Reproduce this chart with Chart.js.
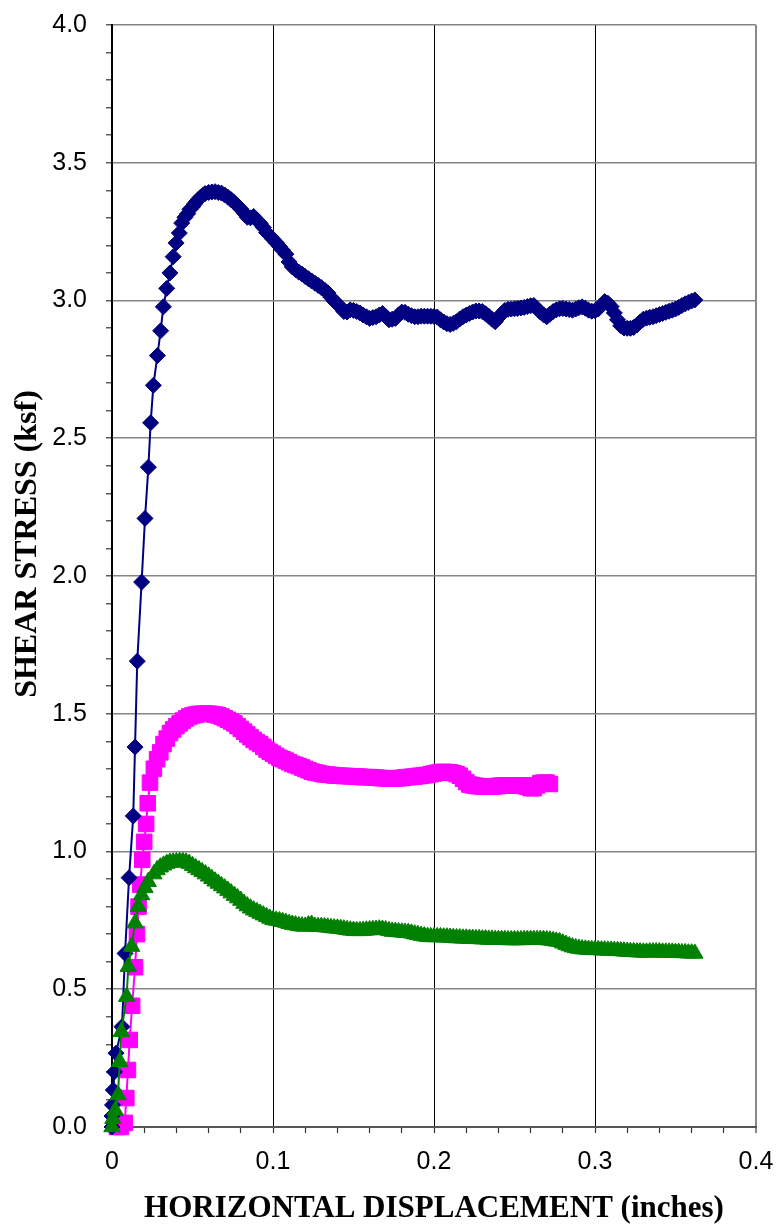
<!DOCTYPE html>
<html>
<head>
<meta charset="utf-8">
<script src="https://cdn.jsdelivr.net/npm/chart.js@4.4.1/dist/chart.umd.min.js"></script>
<style>
body{margin:0;background:#fff;}
canvas{display:block;}
</style>
</head>
<body>
<canvas id="chart" width="780" height="1228"></canvas>
<script>

/* DATA */

let xTickLabels = ["0","0.1","0.2","0.3","0.4"];
let yTickLabels = ["0.0","0.5","1.0","1.5","2.0","2.5","3.0","3.5","4.0"];
let xTitle = "HORIZONTAL DISPLACEMENT (inches)";
let yTitle = "SHEAR STRESS (ksf)";

/* blue diamonds */
let blueX = [0,0,0.0003,0.0008,0.0015,0.0025,0.0062,0.0081,0.0106,0.0132,
0.0143,0.0157,0.0184,0.0205,0.0226,0.024,0.0257,0.0282,0.0302,0.0319,
0.034,0.036,0.038,0.0398,0.0418,0.0433,0.0453,0.047,0.0484,0.05,
0.0512,0.0526,0.0538,0.055,0.0564,0.0578,0.06,0.062,0.064,
0.066,0.068,0.070,0.072,0.074,0.076,0.078,0.080,0.082,0.084,
0.086,0.088,0.090,0.092,0.094,0.096,0.098,0.100,0.102,0.104,
0.106,0.108,0.110,0.112,0.114,0.116,0.118,0.120,0.122,0.124,
0.126,0.128,0.130,0.132,0.134,0.136,0.138,0.140,0.142,0.144,
0.146,0.148,0.150,0.152,0.154,0.156,0.158,0.160,0.162,0.164,
0.166,0.168,0.170,0.172,0.174,0.176,0.178,0.180,0.182,0.184,
0.186,0.188,0.190,0.192,0.194,0.196,0.198,0.200,0.202,0.204,
0.206,0.208,0.210,0.212,0.214,0.216,0.218,0.220,0.222,0.224,
0.226,0.228,0.230,0.232,0.234,0.236,0.238,0.240,0.242,0.244,
0.246,0.248,0.250,0.252,0.254,0.256,0.258,0.260,0.262,0.264,
0.266,0.268,0.270,0.272,0.274,0.276,0.278,0.280,0.282,0.284,
0.286,0.288,0.290,0.292,0.294,0.296,0.298,0.300,0.302,0.304,
0.306,0.308,0.310,0.312,0.314,0.316,0.318,0.320,0.322,0.324,
0.326,0.328,0.330,0.332,0.334,0.336,0.338,0.340,0.342,0.344,
0.346,0.348,0.350,0.352,0.354,0.356,0.358,0.360,0.362];
let blueY = [0,0.04,0.08,0.134,0.2,0.268,0.364,0.63,0.905,1.129,
1.379,1.691,1.978,2.209,2.395,2.556,2.692,2.8,2.89,2.977,
3.044,3.1,3.159,3.209,3.245,3.281,3.302,3.315,3.331,3.34,
3.35,3.36,3.368,3.375,3.382,3.388,3.392,3.394,3.395,
3.392,3.39,3.383,3.375,3.366,3.356,3.344,3.332,3.318,3.302,
3.300,3.305,3.292,3.28,3.265,3.247,3.235,3.222,3.21,3.196,
3.182,3.168,3.14,3.122,3.112,3.103,3.096,3.087,3.079,3.071,
3.063,3.055,3.047,3.038,3.028,3.012,2.998,2.988,2.975,2.96,
2.958,2.966,2.964,2.96,2.955,2.947,2.941,2.935,2.938,2.941,
2.947,2.953,2.942,2.93,2.932,2.935,2.948,2.958,2.957,2.95,
2.945,2.941,2.941,2.943,2.943,2.943,2.943,2.942,2.94,2.93,
2.922,2.916,2.913,2.917,2.923,2.933,2.941,2.947,2.953,2.958,
2.962,2.962,2.96,2.952,2.943,2.932,2.923,2.938,2.952,2.964,
2.968,2.969,2.97,2.971,2.973,2.975,2.978,2.981,2.982,2.97,
2.958,2.948,2.941,2.95,2.96,2.966,2.97,2.971,2.969,2.967,
2.965,2.969,2.974,2.977,2.972,2.965,2.961,2.963,2.969,2.982,
2.996,2.99,2.978,2.955,2.93,2.908,2.9,2.899,2.899,2.902,
2.911,2.922,2.932,2.936,2.939,2.941,2.945,2.949,2.953,2.957,
2.961,2.965,2.969,2.975,2.982,2.988,2.993,2.998,3.002];

/* magenta squares */
let pinkX = [0.003,0.0055,0.0079,0.0089,0.0099,0.011,0.0125,0.0143,0.0155,0.0165,
0.0175,0.0188,0.02,0.0212,0.0222,0.0236,
0.026,0.028,0.030,0.032,0.034,0.036,0.038,0.040,0.042,0.044,
0.046,0.048,0.050,0.052,0.054,0.056,0.058,0.060,0.062,0.064,
0.066,0.068,0.070,0.072,0.074,0.076,0.078,0.080,0.082,0.084,
0.086,0.088,0.090,0.092,0.094,0.096,0.098,0.100,0.102,0.104,
0.106,0.108,0.110,0.112,0.114,0.116,0.118,0.120,0.122,0.124,
0.126,0.128,0.130,0.132,0.134,0.136,0.138,0.140,0.142,0.144,
0.146,0.148,0.150,0.152,0.154,0.156,0.158,0.160,0.162,0.164,
0.166,0.168,0.170,0.172,0.174,0.176,0.178,0.180,0.182,0.184,
0.186,0.188,0.190,0.192,0.194,0.196,0.198,0.200,0.202,0.204,
0.206,0.208,0.210,0.212,0.214,0.216,0.218,0.220,0.222,0.224,
0.226,0.228,0.230,0.232,0.234,0.236,0.238,0.240,0.242,0.244,
0.246,0.248,0.250,0.252,0.254,0.256,0.258,0.260,0.262,0.264,
0.266,0.268,0.270,0.272];
let pinkY = [0,0,0.015,0.105,0.207,0.316,0.44,0.58,0.7,0.8,
0.88,0.97,1.035,1.1,1.175,1.25,
1.30,1.335,1.36,1.39,1.41,1.43,1.443,1.455,1.465,1.475,
1.483,1.49,1.494,1.497,1.499,1.5,1.5,1.5,1.499,1.497,
1.494,1.49,1.484,1.478,1.472,1.465,1.455,1.445,1.435,1.425,
1.415,1.405,1.397,1.39,1.38,1.37,1.362,1.355,1.347,1.34,
1.335,1.33,1.324,1.318,1.314,1.31,1.305,1.3,1.295,1.29,
1.287,1.285,1.282,1.28,1.279,1.278,1.276,1.275,1.275,1.274,
1.274,1.273,1.273,1.272,1.271,1.27,1.27,1.27,1.269,1.268,
1.267,1.266,1.266,1.265,1.265,1.265,1.266,1.267,1.269,1.27,
1.271,1.272,1.274,1.275,1.277,1.278,1.281,1.283,1.286,1.288,
1.289,1.288,1.287,1.285,1.281,1.275,1.264,1.252,1.243,1.24,
1.238,1.237,1.236,1.235,1.235,1.236,1.237,1.238,1.239,1.24,
1.24,1.24,1.24,1.24,1.24,1.238,1.235,1.23,1.23,1.24,
1.248,1.25,1.25,1.245];

/* green triangles */
let greenX = [0,0.0006,0.002,0.0037,0.0048,0.0058,0.0091,0.0101,0.0122,0.0143,
0.0163,0.0184,0.0205,0.0225,
0.026,0.028,0.030,0.032,0.034,0.036,0.038,0.040,0.042,0.044,
0.046,0.048,0.050,0.052,0.054,0.056,0.058,0.060,0.062,0.064,
0.066,0.068,0.070,0.072,0.074,0.076,0.078,0.080,0.082,0.084,
0.086,0.088,0.090,0.092,0.094,0.096,0.098,0.100,0.102,0.104,
0.106,0.108,0.110,0.112,0.114,0.116,0.118,0.120,0.122,0.124,
0.126,0.128,0.130,0.132,0.134,0.136,0.138,0.140,0.142,0.144,
0.146,0.148,0.150,0.152,0.154,0.156,0.158,0.160,0.162,0.164,
0.166,0.168,0.170,0.172,0.174,0.176,0.178,0.180,0.182,0.184,
0.186,0.188,0.190,0.192,0.194,0.196,0.198,0.200,0.202,0.204,
0.206,0.208,0.210,0.212,0.214,0.216,0.218,0.220,0.222,0.224,
0.226,0.228,0.230,0.232,0.234,0.236,0.238,0.240,0.242,0.244,
0.246,0.248,0.250,0.252,0.254,0.256,0.258,0.260,0.262,0.264,
0.266,0.268,0.270,0.272,0.274,0.276,0.278,0.280,0.282,0.284,
0.286,0.288,0.290,0.292,0.294,0.296,0.298,0.300,0.302,0.304,
0.306,0.308,0.310,0.312,0.314,0.316,0.318,0.320,0.322,0.324,
0.326,0.328,0.330,0.332,0.334,0.336,0.338,0.340,0.342,0.344,
0.346,0.348,0.350,0.352,0.354,0.356,0.358,0.360,0.362];
let greenY = [0,0.03,0.06,0.116,0.237,0.346,0.473,0.582,0.655,0.74,
0.8,0.842,0.868,0.89,
0.918,0.933,0.943,0.95,0.956,0.96,0.961,0.962,0.963,0.963,
0.961,0.956,0.948,0.94,0.933,0.926,0.918,0.91,0.901,0.892,
0.884,0.875,0.867,0.858,0.849,0.84,0.831,0.822,0.811,0.802,
0.794,0.787,0.781,0.775,0.769,0.763,0.757,0.752,0.75,0.748,
0.745,0.742,0.738,0.735,0.733,0.73,0.729,0.728,0.733,0.735,
0.728,0.727,0.727,0.726,0.725,0.723,0.722,0.721,0.72,0.718,
0.716,0.714,0.713,0.712,0.712,0.713,0.714,0.715,0.716,0.717,
0.718,0.717,0.715,0.712,0.71,0.709,0.708,0.707,0.706,0.705,
0.703,0.7,0.698,0.695,0.693,0.691,0.69,0.69,0.69,0.69,
0.689,0.689,0.688,0.687,0.686,0.686,0.685,0.685,0.684,0.684,
0.683,0.683,0.682,0.682,0.681,0.681,0.68,0.68,0.68,0.68,
0.679,0.679,0.679,0.679,0.679,0.68,0.68,0.68,0.68,0.68,
0.68,0.68,0.679,0.678,0.676,0.674,0.672,0.667,0.662,0.657,
0.653,0.65,0.648,0.646,0.645,0.644,0.643,0.643,0.643,0.642,
0.642,0.641,0.641,0.64,0.64,0.639,0.638,0.637,0.636,0.636,
0.635,0.635,0.634,0.634,0.635,0.635,0.635,0.635,0.634,0.634,
0.634,0.634,0.633,0.633,0.632,0.632,0.631,0.631,0.63];

function toPoints(xs,ys){
let pts = [];
let n = Math.min(xs.length,ys.length);
for(let i=0;i<n;i++){
pts.push({x:xs[i],y:ys[i]});
}
return pts;
}

function makeSet(xs,ys,color,style,radius,order){
return {
data:toPoints(xs,ys),
showLine:true,
borderColor:color,
backgroundColor:color,
borderWidth:2,
pointStyle:style,
pointRadius:radius,
pointBorderWidth:1,
pointBorderColor:color,
pointBackgroundColor:color,
clip:false,
order:order
};
}

/* x ticks every 0.02, labelled every 0.1 */
function xIndex(v){ return Math.round(v*50); }
/* y ticks every 0.1, labelled every 0.5 */
function yIndex(v){ return Math.round(v*10); }

/* rotated y title, drawn by hand so it can sit where the original has it */
let yTitlePlugin = {
id:"yTitle",
afterDraw:function(c){
let g = c.ctx;
g.save();
g.translate(28,544);
g.rotate(-Math.PI/2);
g.font = "bold 32px 'Liberation Serif', 'Times New Roman', serif";
g.fillStyle = "#000";
g.textAlign = "center";
g.textBaseline = "middle";
g.fillText(yTitle,0,0);
g.restore();
}
};

let ctx = document.getElementById("chart").getContext("2d");

let chart = new Chart(ctx,{
type:"scatter",
data:{
datasets:[
makeSet(greenX,greenY,"#008000","triangle",9.5,1),
makeSet(blueX,blueY,"#000080","rectRot",8,2),
makeSet(pinkX,pinkY,"#FF00FF","rect",11,3)
]
},
plugins:[yTitlePlugin],
options:{
responsive:false,
animation:false,
layout:{autoPadding:false,padding:{top:25,right:24,bottom:0,left:0}},
plugins:{
legend:{display:false},
tooltip:{enabled:false}
},
scales:{
x:{
type:"linear",
min:0,
max:0.4,
afterFit:function(scale){
scale.height = 101;
scale.paddingLeft = 0;
scale.paddingRight = 0;
},
ticks:{
stepSize:0.02,
autoSkip:false,
maxRotation:0,
padding:14,
color:"#000",
font:{family:"'Liberation Sans', Arial, sans-serif",size:25},
callback:function(v){
let k = xIndex(v);
if(k % 5 === 0) return xTickLabels[k/5];
return "";
}
},
grid:{
tickLength:6,
tickColor:"#333",
tickWidth:1.2,
color:function(c){
let k = xIndex(c.tick.value);
if(k === 0) return "rgba(0,0,0,0)";
if(k === 20) return "#8a8a8a";
if(k % 5 === 0) return "#000";
return "rgba(0,0,0,0)";
},
lineWidth:function(c){
return xIndex(c.tick.value) === 20 ? 2 : 1;
}
},
border:{color:"#555",width:2},
title:{
display:true,
text:xTitle,
color:"#000",
font:{family:"'Liberation Serif', 'Times New Roman', serif",size:31,weight:"bold",lineHeight:1.2},
padding:{top:0,bottom:0}
}
},
y:{
min:0,
max:4,
afterFit:function(scale){
scale.width = 112;
scale.paddingTop = 0;
scale.paddingBottom = 0;
},
ticks:{
stepSize:0.1,
autoSkip:false,
padding:19,
color:"#000",
font:{family:"'Liberation Sans', Arial, sans-serif",size:25},
callback:function(v){
let k = yIndex(v);
if(k % 5 === 0) return yTickLabels[k/5];
return "";
}
},
grid:{
tickLength:6,
tickColor:"#333",
tickWidth:1.2,
color:function(c){
let k = yIndex(c.tick.value);
if(k === 0) return "rgba(0,0,0,0)";
if(k % 5 === 0) return "#858585";
return "rgba(0,0,0,0)";
},
lineWidth:1.6
},
border:{color:"#000",width:2},
title:{display:false}
}
}
}
});

</script>
</body>
</html>
